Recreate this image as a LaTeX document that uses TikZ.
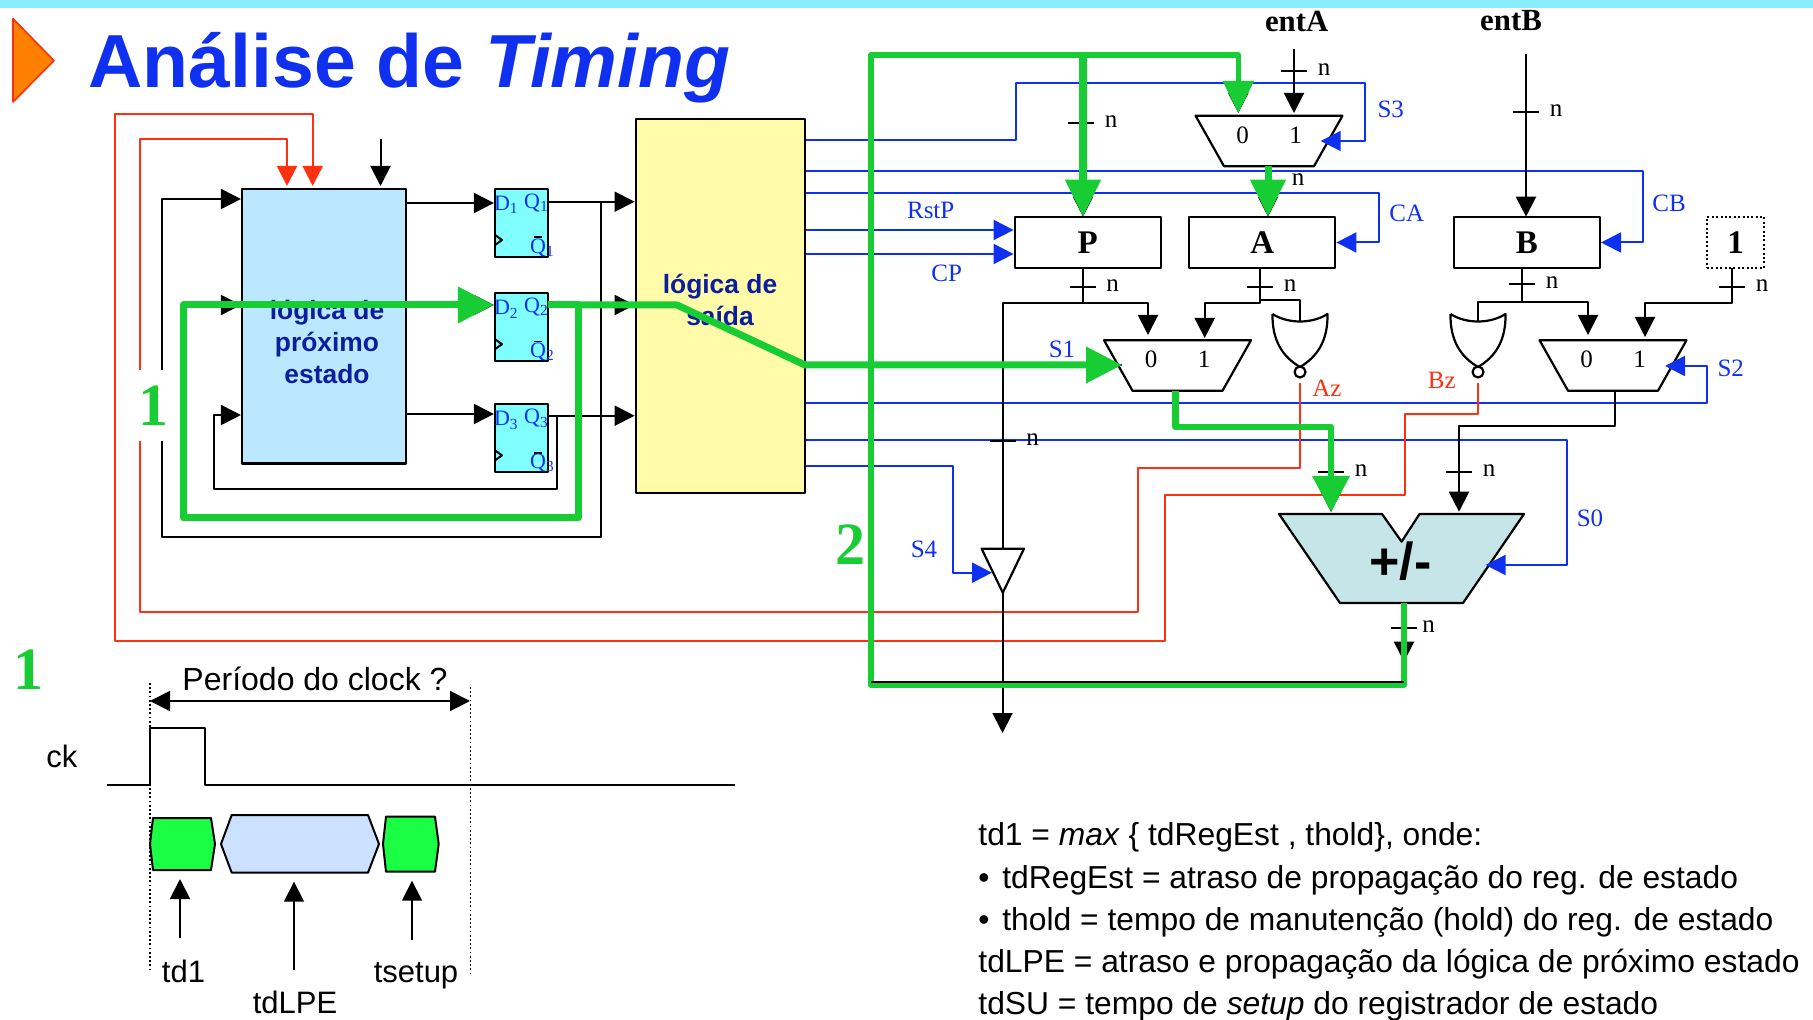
\documentclass[tikz,border=0pt]{standalone}
\usepackage{fontspec}
\setmainfont{Liberation Sans}
\newfontfamily\timesfam{Liberation Serif}
\usetikzlibrary{positioning}
\usetikzlibrary{shapes.geometric}
\usetikzlibrary{arrows.meta}

\definecolor{bandcol}{HTML}{88EEFF}
\definecolor{wireblue}{HTML}{1030F0}
\definecolor{wirered}{HTML}{FF3010}
\definecolor{wiregreen}{HTML}{18CC33}
\definecolor{navytxt}{HTML}{0A1E9E}
\definecolor{lpecol}{HTML}{BBE8FF}
\definecolor{saidacol}{HTML}{FFFBA8}
\definecolor{ffcol}{HTML}{7FFFFF}
\definecolor{alucol}{HTML}{C5E5E8}
\definecolor{hexgreen}{HTML}{1AFF44}
\definecolor{hexblue}{HTML}{CCE0FF}

\newcommand{\muxbits}{\raisebox{6pt}{0\hspace{20.25pt}1}}
\newcommand{\qbar}[1]{\rlap{\hspace{2pt}\raisebox{7.6pt}{\textcolor{black}{\rule{4pt}{0.9pt}}}}Q\textsubscript{#1}}

\begin{document}
\begin{tikzpicture}[
  x=0.5pt,y=-0.5pt,
  line join=round,
  tipk/.style={-{Triangle[length=10pt,width=10pt]}},
  tipd/.style={{Triangle[length=10pt,width=10pt]}-{Triangle[length=10pt,width=10pt]}},
  blkwire/.style={draw=black,line width=1pt},
  bluewire/.style={draw=wireblue,line width=1pt},
  redwire/.style={draw=wirered,line width=1pt},
  greenwire/.style={draw=wiregreen,line width=#1},
  greentip/.style 2 args={-{Triangle[length=#1,width=#2,color=wiregreen]}},
  mytxt/.style={font=\timesfam\fontsize{12.5}{15}\selectfont,inner sep=0},
  bluetxt/.style={mytxt,text=wireblue},
  redtxt/.style={mytxt,text=wirered},
  bigtxt/.style={font=\timesfam\bfseries\fontsize{30}{32}\selectfont,text=wiregreen,inner sep=0},
  navy/.style={font=\bfseries\fontsize{13.2}{16}\selectfont,text=navytxt,align=center,inner sep=0},
  timetxt/.style={font=\fontsize{15.5}{18}\selectfont,inner sep=0},
  entlbl/.style={font=\timesfam\bfseries\fontsize{15.4}{18}\selectfont,inner sep=0},
  myreg/.style={draw,line width=1.1pt,minimum width=73pt,minimum height=25.6pt,inner sep=0,
    font=\timesfam\bfseries\fontsize{16.5}{18}\selectfont},
  mymux/.style={draw,line width=1.1pt,trapezium,trapezium stretches,trapezium angle=54,shape border rotate=180,
    minimum width=73.8pt,minimum height=25.3pt,inner sep=0,font=\timesfam\fontsize{12.5}{15}\selectfont},
  fftxt/.style={font=\timesfam\fontsize{11}{13}\selectfont,text=wireblue,inner sep=0},
  myff/.style={draw,line width=1.1pt,fill=ffcol,minimum width=26.5pt,minimum height=34pt,inner sep=0,
    label={[fftxt,xshift=-7.6pt,yshift=9pt]center:D\textsubscript{#1}},
    label={[fftxt,xshift=7.5pt,yshift=10pt]center:Q\textsubscript{#1}},
    label={[fftxt,xshift=10.5pt,yshift=-11.8pt]center:\qbar{#1}},
    path picture={\draw[line width=1pt]
      ([yshift=-6pt]path picture bounding box.west) --
      ([xshift=3.5pt,yshift=-8.5pt]path picture bounding box.west) --
      ([yshift=-11pt]path picture bounding box.west);}},
  mybus/.pic={
    \draw[line width=1pt] (-13,0) -- (13,0);
    \node[mytxt,anchor=base] (-n) at (#1,4.5) {n};
  },
  pics/mybus/.default=30,
  mynor/.pic={
    \draw[line width=1.1pt] (-27.5,0) .. controls (-12,10) and (12,10) .. (27.5,0)
      .. controls (28,27) and (17,43) .. (0,53) .. controls (-17,43) and (-28,27) .. (-27.5,0);
    \draw[line width=1.1pt] (0,58) circle[radius=5.5];
    \coordinate (-in) at (0,8);
    \coordinate (-out) at (0,69);
  }
]
\useasboundingbox (0,0) rectangle (1813,1020);

\fill[bandcol] (0,0) rectangle (1813,8);
\draw[fill=orange,draw=wirered,line width=0.8pt] (13,18.6) -- (54,60.7) -- (13,102) -- cycle;
\node[anchor=base west,inner sep=0,font=\bfseries\fontsize{37.6}{40}\selectfont,text=wireblue] (titulo) at (88,88)
  {Análise de \textit{Timing}};

\node[draw,line width=1.1pt,fill=lpecol,minimum width=82pt,minimum height=137.3pt,inner sep=0] (lpe) at (324,326.3) {};
\node[navy] (lpetxt) at (327,342) {lógica de\\[0pt]próximo\\[0pt]estado};
\node[draw,line width=1.1pt,fill=saidacol,minimum width=84.8pt,minimum height=187pt,inner sep=0] (saida) at (720.5,306) {};
\node[navy] (saidatxt) at (720,300) {lógica de\\saída};

\node[myff=1] (ff1) at (521.5,223) {};
\node[myff=2,below=17pt of ff1] (ff2) {};
\node[myff=3,below=20.5pt of ff2] (ff3) {};

\node[myreg] (p) at (1087.7,242.5) {P};
\node[myreg,right=13.2pt of p] (a) {A};
\node[myreg,right=58.2pt of a] (b) {B};
\node[draw,line width=1pt,dash pattern=on 1pt off 1.2pt,minimum width=28.5pt,minimum height=25.6pt,inner sep=0,
  font=\timesfam\bfseries\fontsize{16.5}{18}\selectfont] (um) at (1735.5,242.5) {1};

\node[mymux] (muxa) at (1269,141) {\muxbits};
\node[mymux] (muxs) at (1177.5,365.5) {\muxbits};
\node[mymux] (muxb) at (1613,365.5) {\muxbits};
\pic (nora) at (1300,314) {mynor};
\pic (norb) at (1478,314) {mynor};

\draw[line width=1.1pt,fill=alucol] (1279,514) -- (1382,514) -- (1401.6,541.7) -- (1419.5,514) -- (1524,514)
  -- (1463,603) -- (1340,603) -- cycle;
\node[font=\bfseries\fontsize{26}{28}\selectfont,inner sep=0] (alutxt) at (1400.6,561) {+/-};
\draw[line width=1.1pt] (981.6,548.7) -- (1024,548.7) -- (1002.8,592.7) -- cycle;

\coordinate (pin) at (1083,216.7);
\coordinate (ain) at (1268,216.7);
\coordinate (bin) at (1526,216.7);
\coordinate (pout) at (1082.7,268);
\coordinate (aout) at (1260,268);
\coordinate (bout) at (1522,268);
\coordinate (umout) at (1732,268);
\coordinate (ma0) at (1238.3,113);
\coordinate (ma1) at (1294,113);
\coordinate (mas) at (1320.7,141);
\coordinate (maout) at (1268,166);
\coordinate (ms0) at (1148,335);
\coordinate (ms1) at (1204.7,338);
\coordinate (mss) at (1122,365);
\coordinate (msout) at (1175.7,391);
\coordinate (mb0) at (1588,335);
\coordinate (mb1) at (1645,337);
\coordinate (mbs) at (1665,366);
\coordinate (mbout) at (1615,391);
\coordinate (alua) at (1331,512);
\coordinate (alub) at (1459,511.7);
\coordinate (alus) at (1485.6,565);
\coordinate (aluout) at (1404,603);
\coordinate (trin) at (1002.5,548.7);
\coordinate (tris) at (992,572.7);
\coordinate (triout) at (1002.5,592.7);
\coordinate (saiu) at (1002.5,733);
\coordinate (enta0) at (1294,49);
\coordinate (entb0) at (1526,54);
\coordinate (lpea) at (287,186);
\coordinate (lpeb) at (312.7,186);
\coordinate (lpec) at (380.5,186);
\coordinate (lpec0) at (380.5,139);
\coordinate (busfim) at (1404,682);
\coordinate (busp) at (1083,55);

\draw[bluewire,tipk,color=wireblue] (saida.east |- 0,140) -| (1016,83.3) -| (1365,141) -- (mas);
\draw[bluewire,tipk,color=wireblue] (saida.east |- 0,171.3) -| (1643,242.5) -- (b.east);
\draw[bluewire,tipk,color=wireblue] (saida.east |- 0,193.3) -| (1379,242.5) -- (a.east);
\draw[bluewire,tipk,color=wireblue] (saida.east |- 0,230) -- (p.west |- 0,230);
\draw[bluewire,tipk,color=wireblue] (saida.east |- 0,254) -- (p.west |- 0,254);
\draw[bluewire] (saida.east |- 0,365) -- (mss);
\draw[bluewire,tipk,color=wireblue] (saida.east |- 0,402.7) -| (1706.7,366) -- (mbs);
\draw[bluewire,tipk,color=wireblue] (saida.east |- 0,440) -| (1566.8,565) -- (alus);
\draw[bluewire,tipk,color=wireblue] (saida.east |- 0,466) -| (953,572.7) -- (tris);

\draw[redwire,tipk,color=wirered] (nora-out) |- (1138,468) |- (139.5,612) |- (287,139) -- (lpea);
\draw[redwire,tipk,color=wirered] (norb-out) |- (1405,414) |- (1164.7,495) |- (115,641) |- (312.7,114.5) -- (lpeb);

\draw[blkwire,tipk] (lpec0) -- (lpec);
\draw[blkwire,tipk] (lpe.east |- 0,203) -- (ff1.west |- 0,203);
\draw[blkwire,tipk] (lpe.east |- 0,305) -- (ff2.west |- 0,305);
\draw[blkwire,tipk] (lpe.east |- 0,414) -- (ff3.west |- 0,414);
\draw[blkwire,tipk] (ff1.east |- 0,201.7) -- (saida.west |- 0,201.7);
\draw[blkwire,tipk] (ff2.east |- 0,305) -- (saida.west |- 0,305);
\draw[blkwire,tipk] (ff3.east |- 0,415.7) -- (saida.west |- 0,415.7);
\draw[blkwire,tipk] (600.7,201.7) |- (161.5,537.5) |- (lpe.west |- 0,199);
\draw[blkwire,tipk] (578.7,305) |- (183,518) |- (lpe.west |- 0,305);
\draw[blkwire,tipk] (557.3,415.7) |- (214,489) |- (lpe.west |- 0,415);

\node[bigtxt,fill=white,minimum width=12.3pt,minimum height=35.5pt] (um1) at (150.5,405.5) {\makebox[12pt]{\hspace{3pt}1}};
\node[bigtxt] (dois) at (850,545) {2};
\node[bigtxt] (um2) at (28.5,670) {1};

\path (enta0) edge[blkwire,tipk] (ma1)
(maout) edge[blkwire,tipk] (ain)
(entb0) edge[blkwire,tipk] (bin)
(triout) edge[blkwire,tipk] (saiu)
(aluout) edge[blkwire,tipk] (1404,661.7)
;
\draw[blkwire,tipk] (pout) |- (1148,302.7) -- (ms0);
\draw[blkwire] (pout) |- (1002.5,302.7) -- (trin);
\draw[blkwire,tipk] (aout) |- (1204.7,303) -- (ms1);
\draw[blkwire] (aout) |- (1300,300) -- (nora-in);
\draw[blkwire,tipk] (bout) |- (1588,302) -- (mb0);
\draw[blkwire] (bout) |- (1478,302) -- (norb-in);
\draw[blkwire,tipk] (umout) |- (1645,302.7) -- (mb1);
\draw[blkwire,tipk] (mbout) |- (1459,426) -- (alub);
\draw[blkwire,tipk] (msout) |- (1331,427) -- (alua);
\draw[blkwire,tipk] (busfim) -| (871,55) -| (ma0);
\draw[blkwire,tipk] (busp) -- (pin);

\pic at (1294,71) {mybus};
\pic at (1081,123) {mybus};
\pic at (1526,112) {mybus};
\pic at (1082.7,286.7) {mybus};
\pic at (1260,286.7) {mybus};
\pic at (1522,284) {mybus};
\pic at (1732,287) {mybus};
\pic at (1002.5,441) {mybus};
\pic at (1331,471.7) {mybus};
\pic at (1459,471.7) {mybus};
\pic at (1403.7,628) {mybus=25};
\node[mytxt,anchor=base] (nmux) at (1298,185.5) {n};

\draw[greenwire=3.5pt,greentip={18pt}{17.5pt}] (548,305) -- (578.7,305) |- (183,518) |- (ff2.west |- 0,305);
\draw[greenwire=3.5pt,greentip={18pt}{17.5pt}] (578.7,305) -- (677,305) -- (805,365) -- (mss);
\draw[greenwire=2.8pt,greentip={16pt}{15pt}] (aluout) |- (871,685) |- (1238.3,55) -- (ma0);
\draw[greenwire=4pt,greentip={18.5pt}{17pt}] (busp) -- (pin);
\draw[greenwire=3.5pt,greentip={18.5pt}{17pt}] (maout) -- (ain);
\draw[greenwire=3.4pt,greentip={18pt}{18pt}] (msout) |- (1331,427) -- (alua);
\draw[blkwire] (871,682) -- (busfim);

\node[entlbl] (enta) at (1296.7,21) {entA};
\node[entlbl] (entb) at (1511,21) {entB};
\node[bluetxt] (ls3) at (1390.7,109) {S3};
\node[bluetxt] (lcb) at (1669,203) {CB};
\node[bluetxt] (lca) at (1406.7,213) {CA};
\node[bluetxt] (lrst) at (930.7,210) {RstP};
\node[bluetxt] (lcp) at (946.7,273) {CP};
\node[bluetxt] (ls1) at (1062,349) {S1};
\node[bluetxt] (ls2) at (1730.7,368) {S2};
\node[bluetxt] (ls0) at (1590,518) {S0};
\node[bluetxt] (ls4) at (924,549) {S4};
\node[redtxt] (laz) at (1327,388) {Az};
\node[redtxt] (lbz) at (1441.7,380) {Bz};

\node[font=\fontsize{16}{18}\selectfont,inner sep=0] (periodo) at (315,679) {Período do clock ?};
\coordinate (perl) at (150,701);
\coordinate (perr) at (470,701);
\draw[line width=1pt,tipd] (perl) -- (perr);
\draw[line width=0.7pt,dash pattern=on 0.9pt off 1.2pt] (150,683) -- (150,972);
\draw[line width=0.7pt,dash pattern=on 0.9pt off 1.2pt] (470.7,687) -- (470.7,973);
\node[timetxt] (ck) at (62,756.7) {ck};
\draw[line width=1pt] (107,785) -- (150,785) -- (150,728) -- (205,728) -- (205,785) -- (735,785);

\draw[line width=1pt,fill=hexgreen] (150,844) -- (153,818) -- (211,818) -- (215,844) -- (211,870) -- (153,870) -- cycle;
\draw[line width=1pt,fill=hexblue] (221,844) -- (231.7,815) -- (368,815) -- (379,844) -- (368,872.7) -- (231.7,872.7) -- cycle;
\draw[line width=1pt,fill=hexgreen] (383,844) -- (386,816.7) -- (435,816.7) -- (438.7,844) -- (435,871.7) -- (386,871.7) -- cycle;

\node[timetxt] (td1) at (183.5,971) {td1};
\node[timetxt] (tdlpe) at (295,1002) {tdLPE};
\node[timetxt] (tsetup) at (416,976) {tsetup};
\coordinate (hex1) at (180,879);
\coordinate (hex2) at (294,881.7);
\coordinate (hex3) at (412,880.7);
\draw[line width=0.9pt,tipk] (180,937.7) -- (hex1);
\draw[line width=0.9pt,tipk] (294,970) -- (hex2);
\draw[line width=0.9pt,tipk] (412,940) -- (hex3);

\node[anchor=north west,align=left,inner sep=0,font=\fontsize{15.9}{21.1}\selectfont] (notas) at (978,822.5) {%
td1 = \textit{max} \{ tdRegEst , thold\}, onde:\\
\makebox[12pt][l]{•}tdRegEst = atraso de propagação do reg. de estado\\
\makebox[12pt][l]{•}thold = tempo de manutenção (hold) do reg. de estado\\
tdLPE = atraso e propagação da lógica de próximo estado\\
tdSU = tempo de \textit{setup} do registrador de estado};

\end{tikzpicture}
\end{document}
